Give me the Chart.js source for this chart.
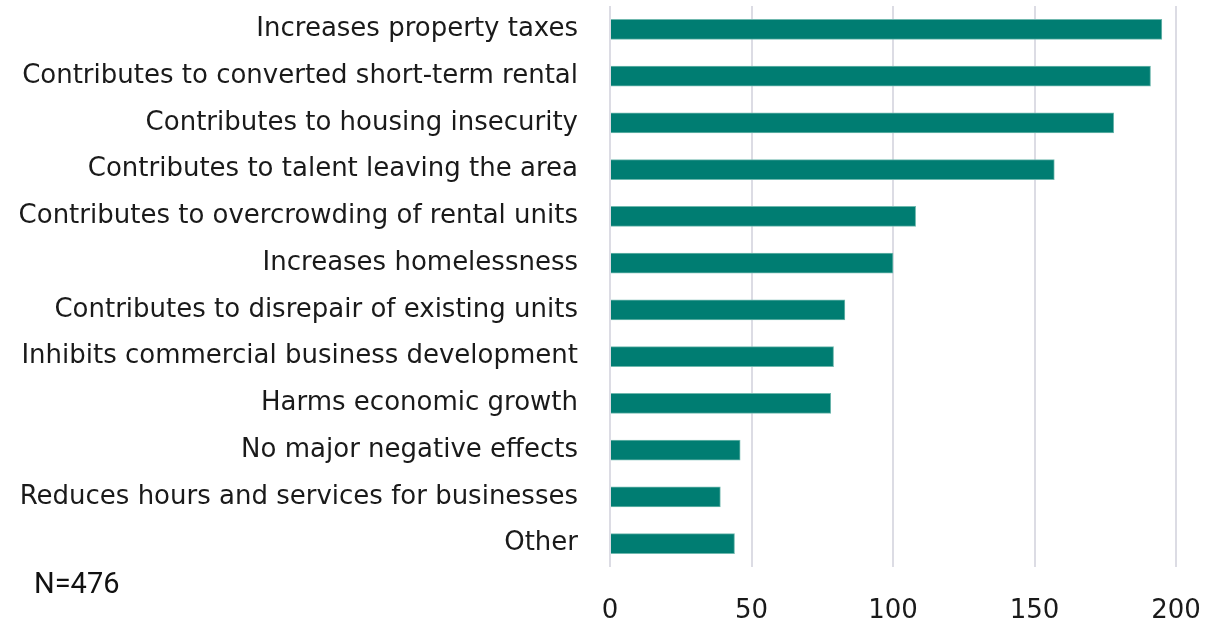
<!DOCTYPE html>
<html lang="en">
<head>
    <meta charset="UTF-8">
    <title>Negative effects</title>
    <script src="https://cdn.jsdelivr.net/npm/chart.js"></script>
    <style>
        html, body { margin: 0; padding: 0; background: #fff; }
        #wrap { position: relative; width: 1206px; height: 624px; }
        #note { position: absolute; left: 34px; top: 566px; font: 29px Roboto, sans-serif; color: #111; }
    </style>
</head>
<body>
<div id="wrap">
    <canvas id="effectsChart" width="1206" height="624"></canvas>
    <div id="note">N=476</div>
</div>
<script>
    // categories and counts
    const categories = [
        "Increases property taxes",
        "Contributes to converted short-term rental",
        "Contributes to housing insecurity",
        "Contributes to talent leaving the area",
        "Contributes to overcrowding of rental units",
        "Increases homelessness",
        "Contributes to disrepair of existing units",
        "Inhibits commercial business development",
        "Harms economic growth",
        "No major negative effects",
        "Reduces hours and services for businesses",
        "Other"
    ];
    const counts = [195, 191, 178, 157, 108, 100, 83, 79, 78, 46, 39, 44];
    const xTicks = [0, 50, 100, 150, 200];

    const labelFont = { family: "'DejaVu Sans', sans-serif", size: 26 };

    const ctx = document.getElementById('effectsChart').getContext('2d');
    const chart = new Chart(ctx, {
        type: 'bar',
        data: {
            labels: categories,
            datasets: [{
                data: counts,
                backgroundColor: '#007d72',
                borderColor: '#6fb8ae',
                borderWidth: 1,
                barThickness: 20
            }]
        },
        options: {
            indexAxis: 'y',
            responsive: false,
            animation: false,
            layout: { padding: { top: 6, right: 30, bottom: 0, left: 0 } },
            plugins: { legend: { display: false }, tooltip: { enabled: false } },
            scales: {
                x: {
                    min: xTicks[0],
                    max: xTicks[xTicks.length - 1],
                    afterBuildTicks: (scale) => { scale.ticks = xTicks.map(v => ({ value: v })); },
                    // tick padding would otherwise be added to the side margins
                    afterFit: (scale) => {
                        scale.height = 57;
                        scale.paddingLeft = 0;
                        scale.paddingRight = 0;
                    },
                    grid: { color: '#dcdce4', lineWidth: 2, drawTicks: false },
                    border: { display: false },
                    ticks: { padding: 29, color: '#1a1a1a', font: labelFont }
                },
                y: {
                    afterFit: (scale) => {
                        scale.width = 610;
                        scale.paddingTop = 0;
                        scale.paddingBottom = 0;
                    },
                    grid: { display: false },
                    border: { display: false },
                    ticks: { padding: 24, color: '#1a1a1a', font: labelFont }
                }
            }
        }
    });
</script>
</body>
</html>
